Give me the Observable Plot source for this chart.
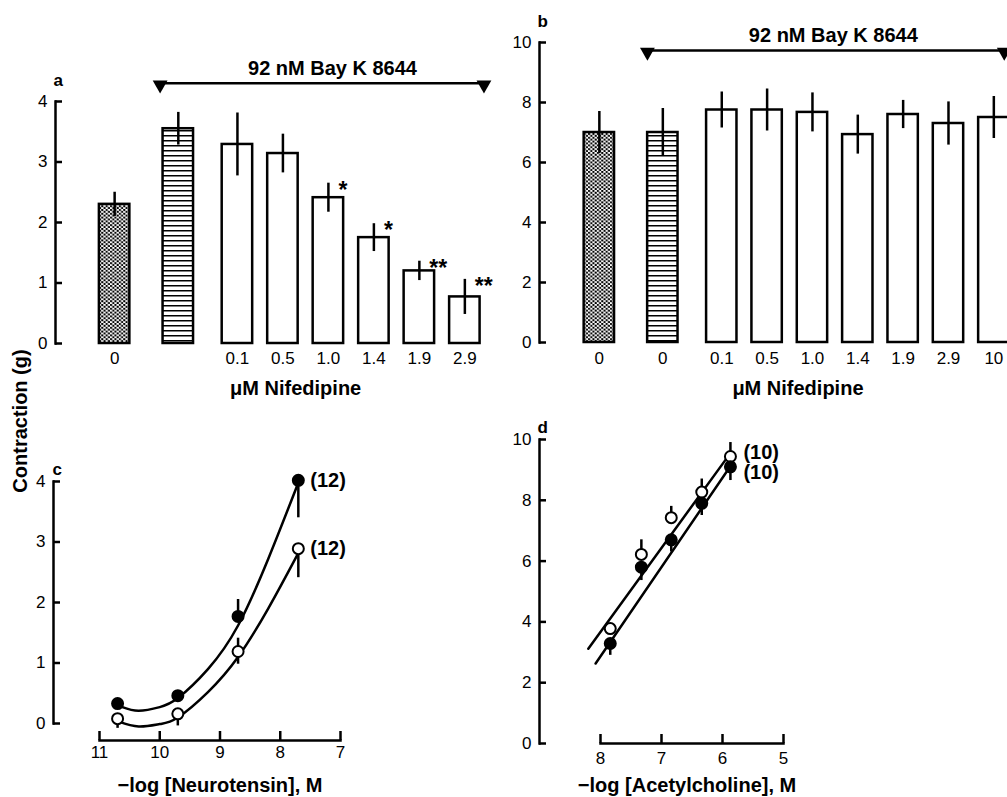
<!DOCTYPE html>
<html><head><meta charset="utf-8">
<script src="https://cdn.jsdelivr.net/npm/d3@7"></script>
<script src="https://cdn.jsdelivr.net/npm/@observablehq/plot@0.6"></script>
<style>
body{margin:0;background:#fff;overflow:hidden;}
#fig{position:relative;width:1007px;height:797px;overflow:hidden;background:#fff;font-family:"Liberation Sans",Arial,sans-serif;color:#000;}
.panel{position:absolute;}
#ylab{position:absolute;left:20px;top:421px;transform:translate(-50%,-50%) rotate(-90deg);font-weight:bold;font-size:20px;white-space:nowrap;}
</style></head><body>
<svg width="0" height="0" style="position:absolute">
<defs>
<pattern id="stipple" patternUnits="userSpaceOnUse" width="4.4" height="3.8">
<rect width="4.4" height="3.8" fill="white"/>
<circle cx="1.1" cy="0.95" r="1.15" fill="black"/>
<circle cx="3.3" cy="2.85" r="1.15" fill="black"/>
</pattern>
<pattern id="hatch" patternUnits="userSpaceOnUse" width="8" height="5">
<rect width="8" height="5" fill="white"/>
<rect y="0" width="8" height="1.5" fill="black"/>
</pattern>
</defs></svg>
<div id="fig"><div id="ylab">Contraction (g)</div></div>
<script>
// ---------- Panel a data ----------
const doseA = ["0", "", "0.1", "0.5", "1.0", "1.4", "1.9", "2.9"];
const treatA = ["control", "bayK", "bayK+nif", "bayK+nif", "bayK+nif", "bayK+nif", "bayK+nif", "bayK+nif"];
const meanA = [2.3, 3.55, 3.29, 3.14, 2.41, 1.75, 1.2, 0.77];
const semA = [0.2, 0.27, 0.52, 0.32, 0.24, 0.23, 0.16, 0.29];
const sigA = ["", "", "", "", "*", "*", "**", "**"];

// ---------- Panel b data ----------
const doseB = ["0", "0", "0.1", "0.5", "1.0", "1.4", "1.9", "2.9", "10"];
const treatB = ["control", "bayK", "bayK+nif", "bayK+nif", "bayK+nif", "bayK+nif", "bayK+nif", "bayK+nif", "bayK+nif"];
const meanB = [7.0, 7.0, 7.75, 7.75, 7.67, 6.93, 7.6, 7.3, 7.5];
const semB = [0.7, 0.8, 0.6, 0.7, 0.65, 0.65, 0.47, 0.72, 0.7];

// ---------- Panel c data (neurotensin) ----------
const ntLogConc = [10.7, 9.7, 8.7, 7.7];
const ntFilled = [0.33, 0.46, 1.77, 4.02];
const ntFilledLo = [0.33, 0.46, 1.77, 3.4];
const ntFilledHi = [0.33, 0.46, 2.05, 4.02];
const ntOpen = [0.08, 0.16, 1.19, 2.89];
const ntOpenLo = [-0.08, -0.04, 0.98, 2.41];
const ntOpenHi = [0.08, 0.16, 1.41, 2.89];
const ntN = ["(12)", "(12)"];
const ntFitFilledX = [10.62, 10.35, 10.0, 9.7, 9.2, 8.7, 8.2, 7.72];
const ntFitFilledY = [0.27, 0.21, 0.27, 0.42, 0.9, 1.62, 2.72, 3.93];
const ntFitOpenX = [10.68, 10.35, 10.0, 9.7, 9.2, 8.7, 8.2, 7.72];
const ntFitOpenY = [0.03, -0.05, -0.01, 0.1, 0.52, 1.1, 1.9, 2.78];

// ---------- Panel d data (acetylcholine) ----------
const achLogConc = [7.84, 7.33, 6.84, 6.34, 5.87];
const achOpen = [3.78, 6.22, 7.43, 8.27, 9.44];
const achOpenHi = [3.78, 6.7, 7.8, 8.7, 9.9];
const achFilled = [3.29, 5.8, 6.7, 7.9, 9.1];
const achFilledLo = [2.9, 5.36, 6.3, 7.5, 8.65];
const achN = ["(10)", "(10)"];
const achFitOpenX = [8.2, 5.9];
const achFitOpenY = [3.12, 9.47];
const achFitFilledX = [8.08, 5.84];
const achFitFilledY = [2.63, 9.21];

const bayLabel = "92 nM Bay K 8644";
const nifLabel = "μM Nifedipine";

// ---------- layout (not data) ----------
const slots = [0, 1.4, 2.7, 3.7, 4.7, 5.7, 6.7, 7.7, 8.7];
const half = 0.335;
const FONT = "Liberation Sans, Arial, sans-serif";
const fills = {"control": "url(#stipple)", "bayK": "url(#hatch)", "bayK+nif": "white"};
const SW = 2.5;
const TICKFS = 17;
const fmt = d => String(d);

function barMarks(table) {
  const marks = [];
  for (const t of Object.keys(fills)) {
    marks.push(Plot.rectY(table.filter(d => d.treat === t), {
      x1: d => d.slot - half, x2: d => d.slot + half, y1: 0, y2: "mean",
      fill: fills[t], stroke: "black", strokeWidth: SW
    }));
  }
  marks.push(Plot.ruleX(table, {x: "slot", y1: d => d.mean - d.sem, y2: d => d.mean + d.sem, stroke: "black", strokeWidth: SW}));
  return marks;
}

function yAxisMarks(ticks, shift) {
  return [
    Plot.frame({anchor: "left", insetLeft: -shift, strokeWidth: SW}),
    Plot.axisY({ticks, tickSize: 7, dx: 7 - shift, tickFormat: () => "", strokeWidth: SW, label: null}),
    Plot.axisY({ticks, tickSize: 0, tickPadding: 8, dx: -shift, fontSize: TICKFS, tickFormat: fmt, label: null})
  ];
}

const fig = document.getElementById("fig");
function place(plot, left, top) {
  plot.classList.add("panel");
  plot.style.left = left + "px";
  plot.style.top = top + "px";
  fig.appendChild(plot);
}
const baseStyle = {fontFamily: FONT, fontSize: "16px", color: "black", background: "transparent", overflow: "visible"};

// ---------- Panel a ----------
const tableA = doseA.map((d, i) => ({slot: slots[i], dose: d, treat: treatA[i], mean: meanA[i], sem: semA[i], sig: sigA[i]}));
const plotA = Plot.plot({
  width: 500, height: 400,
  marginLeft: 55, marginRight: 22, marginTop: 101, marginBottom: 57,
  x: {domain: [-1.3, 8.0], axis: null, label: null},
  y: {domain: [0, 4], label: null},
  style: baseStyle,
  marks: [
    ...barMarks(tableA),
    Plot.text(tableA.filter(d => d.sig), {x: "slot", y: d => d.mean + d.sem, text: "sig", dx: 10, dy: 7, textAnchor: "start", fontWeight: "bold", fontSize: 23}),
    Plot.text(tableA, {x: "slot", y: 0, text: "dose", dy: 15, fontSize: TICKFS}),
    Plot.text([nifLabel], {x: 3.98, y: 0, text: d => d, dy: 45, fontSize: 20, fontWeight: "bold"}),
    Plot.ruleY([4.3], {x1: 1.0, x2: 8.12, strokeWidth: SW}),
    Plot.dot([1.0, 8.12], {x: d => d, y: 4.3, symbol: "triangle", rotate: 180, r: 5.5, fill: "black", dy: 1.5}),
    Plot.text([bayLabel], {x: 4.79, y: 4.55, text: d => d, fontSize: 20, fontWeight: "bold"}),
    Plot.text(["a"], {frameAnchor: "top-left", dx: -2, dy: -21, textAnchor: "start", lineAnchor: "middle", fontSize: 17, fontWeight: "bold"}),
    ...yAxisMarks([0, 1, 2, 3, 4], 0)
  ]
});
place(plotA, 0, 0);

// ---------- Panel b ----------
const tableB = doseB.map((d, i) => ({slot: slots[i], dose: d, treat: treatB[i], mean: meanB[i], sem: semB[i]}));
const plotB = Plot.plot({
  width: 516, height: 400,
  marginLeft: 39, marginRight: 0, marginTop: 42, marginBottom: 58,
  x: {domain: [-1.32, 9.2], axis: null, label: null},
  y: {domain: [0, 10], label: null},
  style: baseStyle,
  marks: [
    ...barMarks(tableB),
    Plot.text(tableB, {x: "slot", y: 0, text: "dose", dy: 16, fontSize: TICKFS}),
    Plot.text([nifLabel], {x: 4.38, y: 0, text: d => d, dy: 46, fontSize: 20, fontWeight: "bold"}),
    Plot.ruleY([9.73], {x1: 1.06, x2: 8.93, strokeWidth: SW}),
    Plot.dot([1.06, 8.93], {x: d => d, y: 9.73, symbol: "triangle", rotate: 180, r: 5.5, fill: "black", dy: 1.5}),
    Plot.text([bayLabel], {x: 5.16, y: 10.23, text: d => d, fontSize: 20, fontWeight: "bold"}),
    Plot.text(["b"], {frameAnchor: "top-left", dx: -2, dy: -21, textAnchor: "start", lineAnchor: "middle", fontSize: 17, fontWeight: "bold"}),
    ...yAxisMarks([0, 2, 4, 6, 8, 10], 0)
  ]
});
place(plotB, 500, 0);

// ---------- Panel c ----------
const cFilled = ntLogConc.map((x, i) => ({x, y: ntFilled[i], lo: ntFilledLo[i], hi: ntFilledHi[i]}));
const cOpen = ntLogConc.map((x, i) => ({x, y: ntOpen[i], lo: ntOpenLo[i], hi: ntOpenHi[i]}));
const cFitF = ntFitFilledX.map((x, i) => ({x, y: ntFitFilledY[i]}));
const cFitO = ntFitOpenX.map((x, i) => ({x, y: ntFitOpenY[i]}));
const plotC = Plot.plot({
  width: 500, height: 397,
  marginLeft: 99, marginRight: 160, marginTop: 81, marginBottom: 74,
  x: {domain: [11, 7], label: null},
  y: {domain: [0, 4], label: null},
  style: baseStyle,
  marks: [
    Plot.line(cFitF, {x: "x", y: "y", curve: "natural", strokeWidth: SW}),
    Plot.line(cFitO, {x: "x", y: "y", curve: "natural", strokeWidth: SW}),
    Plot.ruleX(cFilled, {x: "x", y1: "lo", y2: "hi", strokeWidth: SW}),
    Plot.ruleX(cOpen, {x: "x", y1: "lo", y2: "hi", strokeWidth: SW}),
    Plot.dot(cOpen, {x: "x", y: "y", r: 5.5, fill: "white", stroke: "black", strokeWidth: 2}),
    Plot.dot(cFilled, {x: "x", y: "y", r: 5.5, fill: "black", stroke: "black", strokeWidth: 2}),
    Plot.text([cFilled[cFilled.length - 1]], {x: "x", y: "y", text: () => ntN[0], dx: 12, textAnchor: "start", fontSize: 20, fontWeight: "bold"}),
    Plot.text([cOpen[cOpen.length - 1]], {x: "x", y: "y", text: () => ntN[1], dx: 12, textAnchor: "start", fontSize: 20, fontWeight: "bold"}),
    ...yAxisMarks([0, 1, 2, 3, 4], 46),
    Plot.frame({anchor: "bottom", insetBottom: -17, strokeWidth: SW}),
    Plot.axisX({ticks: [11, 10, 9, 8, 7], tickSize: 9, dy: 8, tickFormat: () => "", strokeWidth: SW, label: null}),
    Plot.axisX({ticks: [11, 10, 9, 8, 7], tickSize: 0, tickPadding: 5, dy: 17, fontSize: TICKFS, tickFormat: fmt, label: null}),
    Plot.text(["−log [Neurotensin], M"], {frameAnchor: "bottom", dy: 62, lineAnchor: "middle", fontSize: 20, fontWeight: "bold"}),
    Plot.text(["c"], {frameAnchor: "top-left", dx: -47, dy: -12, textAnchor: "start", lineAnchor: "middle", fontSize: 17, fontWeight: "bold"})
  ]
});
place(plotC, 0, 400);

// ---------- Panel d ----------
const dOpen = achLogConc.map((x, i) => ({x, y: achOpen[i], lo: achOpen[i], hi: achOpenHi[i]}));
const dFilled = achLogConc.map((x, i) => ({x, y: achFilled[i], lo: achFilledLo[i], hi: achFilled[i]}));
const dFitO = achFitOpenX.map((x, i) => ({x, y: achFitOpenY[i]}));
const dFitF = achFitFilledX.map((x, i) => ({x, y: achFitFilledY[i]}));
const plotD = Plot.plot({
  width: 507, height: 397,
  marginLeft: 100, marginRight: 224, marginTop: 39, marginBottom: 54,
  x: {domain: [8, 5], label: null},
  y: {domain: [0, 10], label: null},
  style: baseStyle,
  marks: [
    Plot.line(dFitO, {x: "x", y: "y", strokeWidth: SW}),
    Plot.line(dFitF, {x: "x", y: "y", strokeWidth: SW}),
    Plot.ruleX(dOpen, {x: "x", y1: "lo", y2: "hi", strokeWidth: SW}),
    Plot.ruleX(dFilled, {x: "x", y1: "lo", y2: "hi", strokeWidth: SW}),
    Plot.dot(dOpen, {x: "x", y: "y", r: 5.5, fill: "white", stroke: "black", strokeWidth: 2}),
    Plot.dot(dFilled, {x: "x", y: "y", r: 5.5, fill: "black", stroke: "black", strokeWidth: 2}),
    Plot.text([dOpen[dOpen.length - 1]], {x: "x", y: "y", text: () => achN[0], dx: 13, dy: -4, textAnchor: "start", fontSize: 20, fontWeight: "bold"}),
    Plot.text([dFilled[dFilled.length - 1]], {x: "x", y: "y", text: () => achN[1], dx: 13, dy: 6, textAnchor: "start", fontSize: 20, fontWeight: "bold"}),
    ...yAxisMarks([0, 2, 4, 6, 8, 10], 61),
    Plot.frame({anchor: "bottom", strokeWidth: SW}),
    Plot.axisX({ticks: [8, 7, 6, 5], tickSize: 9, dy: -9, tickFormat: () => "", strokeWidth: SW, label: null}),
    Plot.axisX({ticks: [8, 7, 6, 5], tickSize: 0, tickPadding: 8, fontSize: TICKFS, tickFormat: fmt, label: null}),
    Plot.text(["−log [Acetylcholine], M"], {frameAnchor: "bottom", dy: 42, dx: -5, lineAnchor: "middle", fontSize: 20, fontWeight: "bold"}),
    Plot.text(["d"], {frameAnchor: "top-left", dx: -63, dy: -12, textAnchor: "start", lineAnchor: "middle", fontSize: 17, fontWeight: "bold"})
  ]
});
place(plotD, 500, 400);
</script>
</body></html>
